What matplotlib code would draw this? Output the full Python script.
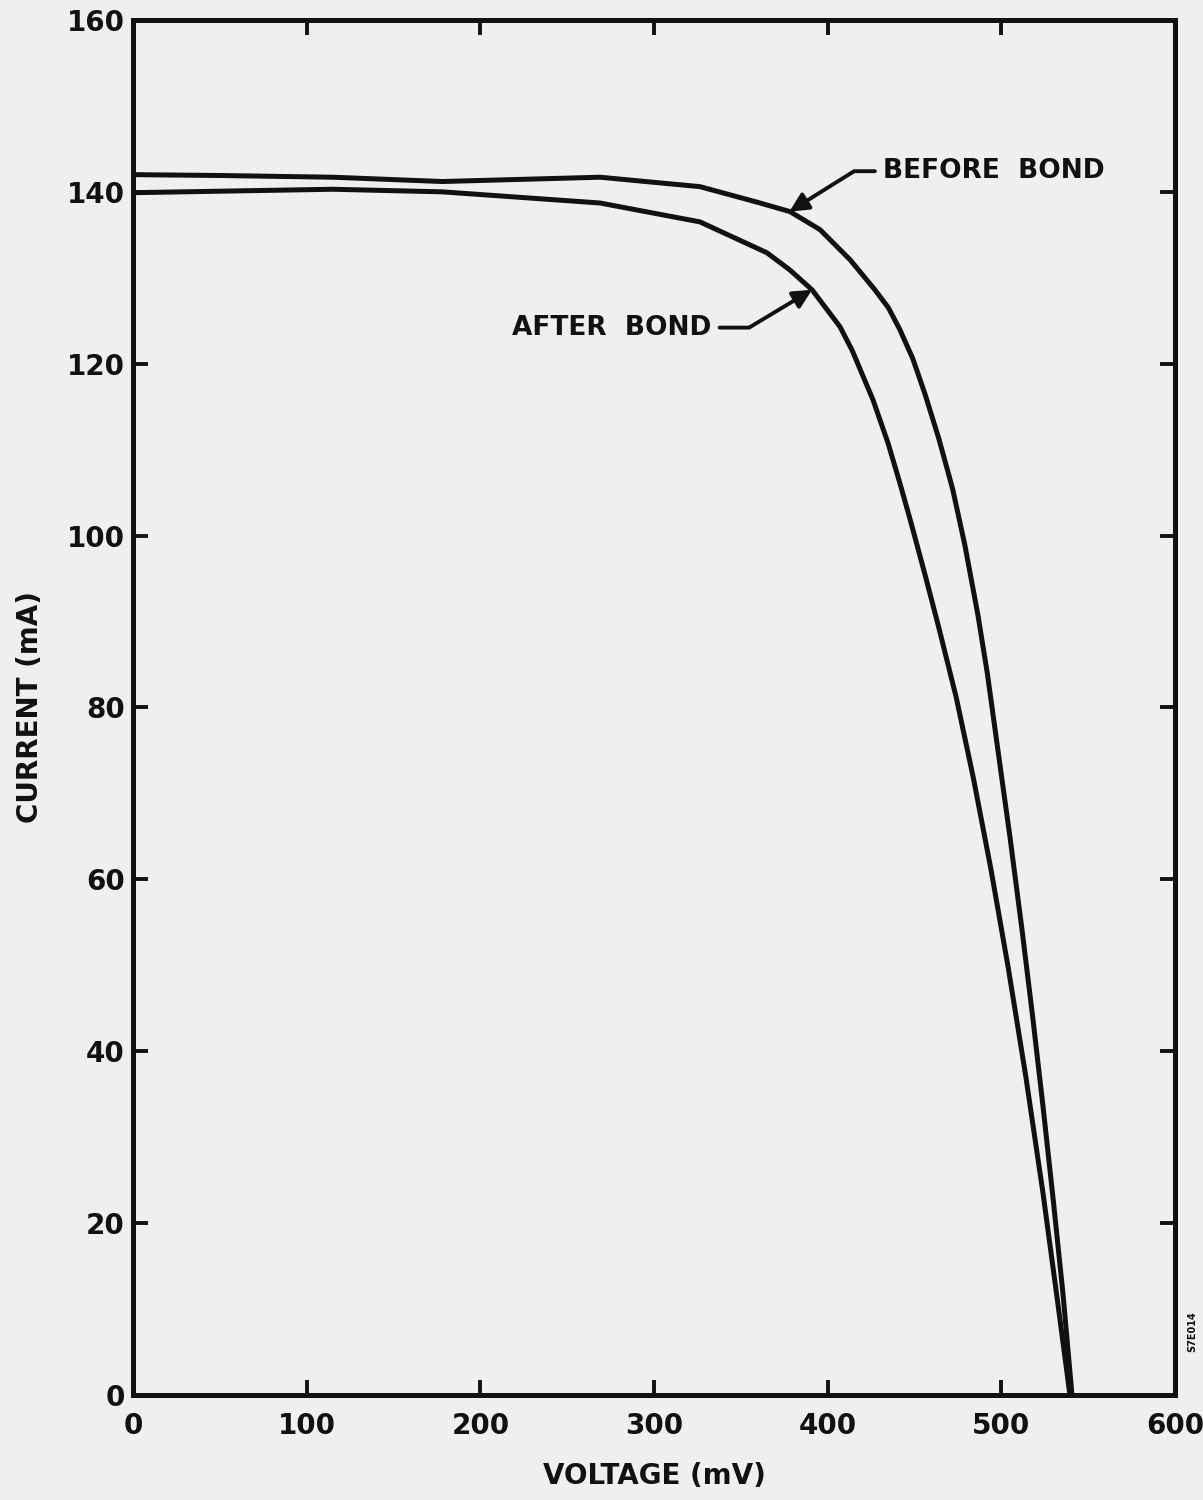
import matplotlib
matplotlib.use("Agg")
import matplotlib.pyplot as plt

# I-V curves (mV, mA)
before_v = [0, 50, 115, 178, 269, 326.5, 359.3, 378.3, 395.6, 412.9, 427.2,
            435, 441.5, 449, 456, 464, 472, 479, 486.5, 492, 498, 505, 512,
            518, 524, 530, 535.5, 540.7]
before_i = [142.0, 141.9, 141.7, 141.2, 141.7, 140.6, 138.8, 137.7, 135.6,
            132.1, 128.6, 126.5, 124.0, 120.6, 116.5, 111.3, 105.4, 98.9,
            90.8, 83.9, 75.1, 64.9, 54.0, 44.1, 33.6, 22.5, 11.8, 0]

after_v = [0, 115, 178, 268.9, 326.5, 365.1, 378.3, 391.0, 407.1, 414.0,
           426.1, 434.7, 441.6, 448, 456, 464, 474, 484, 494, 504, 514, 524,
           532, 539.5]
after_i = [139.9, 140.3, 140.0, 138.7, 136.5, 132.9, 130.9, 128.6, 124.3,
           121.6, 115.8, 110.8, 106.1, 101.5, 95.5, 89.3, 81.2, 71.7, 61.2,
           49.7, 37.2, 23.5, 11.5, 0]

x_ticks = [0, 100, 200, 300, 400, 500, 600]
y_ticks = [0, 20, 40, 60, 80, 100, 120, 140, 160]

paper = '#efefed'
ink = '#111111'

fig = plt.figure(figsize=(12.03, 15.0), dpi=100, facecolor=paper)
ax = fig.add_axes([0.1106, 0.07, 0.8661, 0.9167], facecolor=paper)

ax.plot(before_v, before_i, color=ink, lw=3.6, solid_joinstyle='round')
ax.plot(after_v, after_i, color=ink, lw=3.6, solid_joinstyle='round')

ax.set_xlim(0, 600)
ax.set_ylim(0, 160)
ax.set_xticks(x_ticks)
ax.set_yticks(y_ticks)
ax.set_xticklabels([str(t) for t in x_ticks])
ax.set_yticklabels([str(t) for t in y_ticks])

for s in ax.spines.values():
    s.set_linewidth(3.6)
    s.set_color(ink)

ax.tick_params(axis='both', direction='in', length=11, width=2.8, color=ink,
               top=True, right=True, labelsize=20, labelcolor=ink)
ax.tick_params(axis='x', pad=12)
ax.tick_params(axis='y', pad=6)
for lab in ax.get_xticklabels() + ax.get_yticklabels():
    lab.set_fontweight('bold')

ax.set_xlabel('VOLTAGE (mV)', fontsize=20, fontweight='bold', color=ink)
ax.set_ylabel('CURRENT (mA)', fontsize=20, fontweight='bold', color=ink)
ax.xaxis.set_label_coords(0.5, -0.049)
ax.yaxis.set_label_coords(-0.085, 0.5)

arrow = dict(arrowstyle='-|>', color=ink, lw=2.8, mutation_scale=28,
             shrinkA=4, shrinkB=0)

ax.annotate('BEFORE  BOND', xy=(378, 137.7), xytext=(432, 142.4),
            fontsize=19, fontweight='bold', color=ink, va='center', ha='left',
            arrowprops=dict(arrow, relpos=(0, 0.5),
                            connectionstyle='angle,angleA=0,angleB=32,rad=0'))
ax.annotate('AFTER  BOND', xy=(391, 128.6), xytext=(333, 124.2),
            fontsize=19, fontweight='bold', color=ink, va='center', ha='right',
            arrowprops=dict(arrow, relpos=(1, 0.5),
                            connectionstyle='angle,angleA=0,angleB=31,rad=0'))

fig.text(0.991, 0.112, 'S7E014', rotation=90, fontsize=7, fontweight='bold',
         color=ink, ha='center', va='center')

fig.savefig('out.png', dpi=100, facecolor=paper)
